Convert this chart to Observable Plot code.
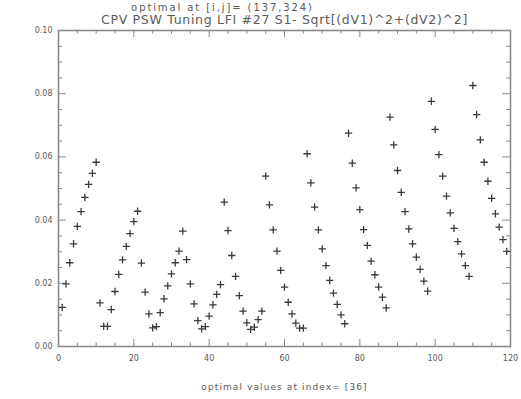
<!DOCTYPE html>
<html>
<head>
<meta charset="utf-8">
<script src="https://cdn.jsdelivr.net/npm/d3@7"></script>
<script src="https://cdn.jsdelivr.net/npm/@observablehq/plot@0.6"></script>
<style>
  html, body { margin: 0; padding: 0; background: #fff; }
  #chart svg { display: block; }
</style>
</head>
<body>
<div id="chart"></div>
<script>
// ---- data ----
const titleLine1 = "optimal at [i,j]= (137,324)";
const titleLine2 = "CPV PSW Tuning LFI #27 S1- Sqrt[(dV1)^2+(dV2)^2]";
const xLabel = "optimal values at index= [36]";

const firstIndex = 1;
const values = [
  0.0124, 0.0198, 0.0265, 0.0325, 0.0380, 0.0427, 0.0472, 0.0513, 0.0548, 0.0583,
  0.0138, 0.0064, 0.0064, 0.0117, 0.0174, 0.0228, 0.0274, 0.0317, 0.0357, 0.0395, 0.0428,
  0.0264, 0.0172, 0.0103, 0.0059, 0.0063, 0.0107, 0.0151, 0.0192, 0.0230, 0.0265, 0.0302,
  0.0365, 0.0275, 0.0198, 0.0135, 0.0082, 0.0056, 0.0063, 0.0096, 0.0132, 0.0165, 0.0196,
  0.0457, 0.0367, 0.0288, 0.0222, 0.0161, 0.0112, 0.0075, 0.0054, 0.0061, 0.0085, 0.0112,
  0.0539, 0.0448, 0.0369, 0.0302, 0.0241, 0.0188, 0.0140, 0.0103, 0.0074, 0.0058, 0.0058,
  0.0610, 0.0518, 0.0441, 0.0369, 0.0309, 0.0256, 0.0209, 0.0169, 0.0133, 0.0100, 0.0072,
  0.0675, 0.0580, 0.0502, 0.0433, 0.0370, 0.0320, 0.0270, 0.0227, 0.0188, 0.0156, 0.0122,
  0.0726, 0.0638, 0.0557, 0.0488, 0.0427, 0.0372, 0.0325, 0.0283, 0.0244, 0.0207, 0.0175,
  0.0776, 0.0687, 0.0607, 0.0539, 0.0476, 0.0423, 0.0374, 0.0332, 0.0293, 0.0256, 0.0222,
  0.0826, 0.0734, 0.0654, 0.0583, 0.0523, 0.0469, 0.0420, 0.0378, 0.0338, 0.0301
];

const xMajorTicks = [0, 20, 40, 60, 80, 100, 120];
const xMinorTicks = [5, 10, 15, 25, 30, 35, 45, 50, 55, 65, 70, 75, 85, 90, 95, 105, 110, 115];
const yMajorTicks = [0.00, 0.02, 0.04, 0.06, 0.08, 0.10];
const yMinorTicks = [0.005, 0.01, 0.015, 0.025, 0.03, 0.035, 0.045, 0.05, 0.055,
                     0.065, 0.07, 0.075, 0.085, 0.09, 0.095];

// ---- build ----
const points = values.map((v, i) => ({index: firstIndex + i, value: v}));

const W = 521, H = 399;
const mL = 58, mR = 11, mT = 30, mB = 53;
const frameW = W - mL - mR, frameH = H - mT - mB;
const axisColor = "#8a8a8a";
const textColor = "#5a5a5a";
const font = "DejaVu Sans, sans-serif";

const chart = Plot.plot({
  width: W,
  height: H,
  marginLeft: mL,
  marginRight: mR,
  marginTop: mT,
  marginBottom: mB,
  style: {background: "#fff", fontFamily: font},
  x: {domain: [0, 120]},
  y: {domain: [0, 0.1]},
  marks: [
    // inward ticks: bottom / top
    Plot.ruleX(xMajorTicks, {stroke: axisColor, strokeWidth: 1, insetTop: frameH - 7}),
    Plot.ruleX(xMinorTicks, {stroke: axisColor, strokeWidth: 1, insetTop: frameH - 3.5}),
    Plot.ruleX(xMajorTicks, {stroke: axisColor, strokeWidth: 1, insetBottom: frameH - 7}),
    Plot.ruleX(xMinorTicks, {stroke: axisColor, strokeWidth: 1, insetBottom: frameH - 3.5}),
    // inward ticks: left / right
    Plot.ruleY(yMajorTicks, {stroke: axisColor, strokeWidth: 1, insetRight: frameW - 8}),
    Plot.ruleY(yMinorTicks, {stroke: axisColor, strokeWidth: 1, insetRight: frameW - 4}),
    Plot.ruleY(yMajorTicks, {stroke: axisColor, strokeWidth: 1, insetLeft: frameW - 8}),
    Plot.ruleY(yMinorTicks, {stroke: axisColor, strokeWidth: 1, insetLeft: frameW - 4}),
    Plot.frame({stroke: axisColor, strokeWidth: 1.6}),
    Plot.axisX({ticks: xMajorTicks, tickSize: 0, tickPadding: 9, fontSize: 8,
                tickFormat: d3.format("d"), label: null, color: textColor}),
    Plot.axisY({ticks: yMajorTicks, tickSize: 0, tickPadding: 6, fontSize: 8,
                tickFormat: d3.format(".2f"), label: null, color: textColor}),
    Plot.dot(points, {x: "index", y: "value", symbol: "plus", r: 2.5,
                      stroke: "#3a3a3a", strokeWidth: 1.3}),
    Plot.text([titleLine1], {frameAnchor: "top", dx: -62, dy: -23, fontSize: 10,
                             fill: textColor, lineAnchor: "middle"}),
    Plot.text([titleLine2], {frameAnchor: "top", dy: -11, fontSize: 12.5,
                             fill: textColor, lineAnchor: "middle"}),
    Plot.text([xLabel], {frameAnchor: "bottom", dy: 41, fontSize: 9,
                         fill: textColor, lineAnchor: "middle"})
  ]
});

// widen the title / label text like the original stroked font
const spacing = new Map([[titleLine1, "1.9px"], [titleLine2, "0.7px"], [xLabel, "1.1px"]]);
d3.select(chart).selectAll("text").each(function () {
  const s = spacing.get(this.textContent);
  if (s) this.setAttribute("letter-spacing", s);
});

document.getElementById("chart").appendChild(chart);
</script>
</body>
</html>
